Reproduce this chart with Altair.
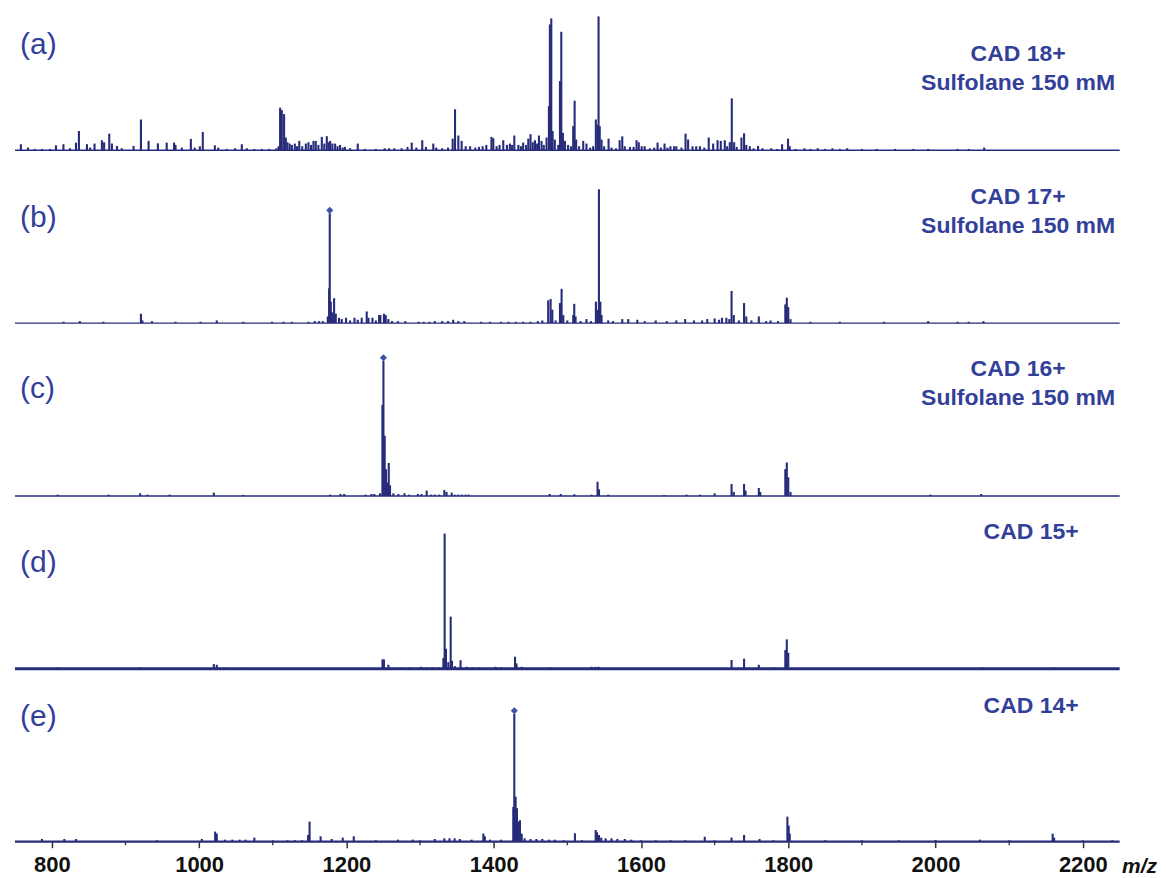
import altair as alt
import pandas as pd

# ---------------- data ----------------
x_range = [750, 2250]
major_ticks = [800, 1000, 1200, 1400, 1600, 1800, 2000, 2200]
minor_ticks = [900, 1100, 1300, 1500, 1700, 1900, 2100]

panel_keys = ["(a)", "(b)", "(c)", "(d)", "(e)"]
panel_texts = [
    ["CAD 18+", "Sulfolane 150 mM"],
    ["CAD 17+", "Sulfolane 150 mM"],
    ["CAD 16+", "Sulfolane 150 mM"],
    ["CAD 15+"],
    ["CAD 14+"],
]

peaks_a = [(758,4.5),(767.6,2),(777,1),(786.6,1),(797.5,1),(805.6,3.7),(815.8,4.5),(824.6,1.5),(832.8,5.7),(836.8,14.4),(847.7,4.5),(852,2),(858,5),(868,7.5),(871,6),(878,12.4),(881.6,5),(888.5,3.2),(895,1.5),(911,3.2),(921,23),(931.4,7),(944,5.2),(956,5.7),(966,5.7),(968,4),(976.6,2),(988.8,8.5),(994,2),(1001,3),(1005,13.7),(1021.4,3.7),(1026,2),(1037.6,1),(1048.9,1.5),(1058,4.5),(1064.8,1.5),(1075,1),(1085,1),(1095,1),(1105,1.5),(1108,3),(1110,31.8),(1112.3,30),(1115.4,27),(1117.7,9.5),(1120,6),(1123,5),(1126,4),(1130,5),(1133,3),(1136,7),(1140,3),(1144.9,5),(1148.5,6),(1152,4),(1155.3,7),(1158.4,7),(1162,4),(1166.6,10),(1170,5),(1173.4,10.5),(1176,6),(1178,7),(1181,5),(1184.7,5),(1188,3),(1191.4,4),(1195,2),(1198,2.5),(1205,1.5),(1215.4,5),(1225,1),(1240,1),(1252,1.5),(1258,1.5),(1265,1.5),(1275,1.5),(1283,2.5),(1288.7,5.7),(1295,2),(1303,7.5),(1308,2.5),(1318,5),(1322,2),(1330,1.5),(1338,2),(1344.3,8.7),(1347.5,30.6),(1352,11),(1356.5,7),(1362,3),(1368,3),(1375,2),(1380,2.5),(1385,3),(1390,4),(1397,10),(1399.5,9),(1404,3),(1408,4),(1413,7.5),(1418,4),(1422,5),(1425,4),(1428,11),(1433.5,4),(1437,3),(1440,5.7),(1444,4),(1447,8.7),(1450,12),(1453,6),(1456,7.5),(1459,5),(1461.5,11),(1465,7),(1468,4),(1471.8,9.5),(1475,33),(1476.3,94),(1478.2,98.5),(1480,14.4),(1483,8),(1487.7,4),(1490,51.7),(1491.8,88.5),(1494,13),(1496.8,7),(1501,4),(1505,3),(1508,18),(1509.9,37),(1512,8),(1516,3),(1521.6,7),(1526,5),(1531,2),(1535,3),(1538.7,23),(1541,19),(1542.4,100),(1544,18),(1546.5,8),(1550,3),(1556,8.7),(1560,2),(1566,1.5),(1571,7.5),(1574.6,10.4),(1578,3),(1585,2.5),(1590,2.5),(1594,7.5),(1597,6),(1601,3),(1605,3),(1612,1.5),(1618,2),(1622.5,5.7),(1627,2),(1632,5),(1636,2),(1640,3),(1645,3),(1648,3),(1655,2),(1660.5,12.4),(1664,8),(1670,3),(1675,3),(1680,3),(1686,2),(1692,9.5),(1698,5),(1704,7.5),(1708.4,7),(1713.8,7.5),(1717,3),(1720.6,6),(1723.3,38.8),(1726.5,6),(1730,2.5),(1736.4,9.5),(1740,12.7),(1743,4),(1747.8,3),(1753,1.5),(1759,3.2),(1765,1.5),(1777,1.5),(1785,1),(1791.6,4.5),(1799.7,8.7),(1802,3),(1810,1),(1822,1.5),(1830,1),(1840,1.5),(1850,1),(1860,1.5),(1870,1),(1880,1.5),(1900,1),(1920,1),(1945,1),(1970,1),(1990,1),(2030,1),(2045,1),(2066,2)]

peaks_b = [(816,1),(838,1.5),(870,1),(921,7),(923,2),(936,1.5),(968,1),(1002,1),(1024,2),(1060,1),(1099,1),(1114.6,1),(1125.8,1),(1148.5,1),(1157,1.5),(1163,1.5),(1168,1.5),(1174.7,5),(1176.5,26),(1177.4,82),(1178.8,16),(1180.6,8),(1183.3,18.6),(1185.6,7),(1190,4),(1193.7,3),(1199.5,4),(1205,2),(1211,4),(1215.4,2.5),(1220.8,4),(1227.6,8.7),(1230,4),(1235.4,4),(1240,2),(1244.4,6),(1246.2,6),(1251,7),(1253.4,6),(1257,3),(1262,1.5),(1270,1.5),(1280,1.5),(1298,1),(1305,1),(1313,1),(1320,1.5),(1330,1.5),(1338,1.5),(1345,2.5),(1352,1.5),(1360,1.5),(1383,1),(1395,1),(1410,1),(1420,1),(1430,1),(1440,1),(1450,1),(1460,1.5),(1466,2),(1474,17),(1477.3,18),(1479.6,10),(1484,2),(1490,15),(1492.2,25.6),(1494.5,6),(1500,2),(1508,6),(1509.4,14.4),(1511.2,5),(1518,1.5),(1526,3),(1532,1.5),(1538.8,16),(1541,10),(1542.9,100),(1544.8,16),(1546.5,6),(1555.5,2),(1562,1.5),(1574.6,3),(1582.7,3),(1595,2.5),(1605,1.5),(1620,2),(1635,1.5),(1648,2),(1660,3),(1672,2),(1683,2),(1690,3),(1700,3.5),(1706,2.5),(1710,4),(1716,4),(1720,3),(1723,24),(1726,6),(1733,2),(1740,15),(1743,5),(1750,2),(1760,5),(1770,1.5),(1776,2),(1786,1.5),(1796,14),(1798,19),(1800,12),(1803,3),(1830,1),(1870,1),(1930,1),(1990,1.5),(2030,1),(2045,1),(2065,1.5)]

peaks_c = [(808,1),(877,1),(920,2),(930,1),(960,1),(1020,2.5),(1060,0.8),(1177.9,1),(1192,1.5),(1197,1.5),(1226,1),(1234,1.5),(1238,1.5),(1245.7,2),(1248.9,68),(1250.3,101),(1252,45),(1253.8,20),(1255.7,10),(1257.5,24.6),(1259.2,8),(1263.8,2),(1270.6,1.5),(1278.8,2),(1285,1),(1297,1.5),(1302,1.5),(1309,4),(1315,1),(1320,1),(1326,1),(1333,4.4),(1336,3),(1343,2.5),(1347,1),(1352,1),(1357,1),(1362,1),(1366,1),(1476,1.5),(1491,1.5),(1509.5,1.3),(1533,1),(1541,10.6),(1543,5),(1555.6,1),(1631.5,0.7),(1661.8,1),(1680,1),(1700,2),(1723,9),(1726,3),(1740,9),(1742,4),(1760,6),(1762,3),(1796,20),(1798,25),(1800,14),(1803,3),(1993,1),(2062,1.5)]

peaks_d = [(808,1),(920,1),(1020,3.5),(1024,3),(1034,1),(1060,0.8),(1249,7),(1251,7),(1257,3),(1273,1),(1286,1),(1301,1.5),(1309,1),(1317,1),(1325,1),(1331.7,8),(1333.4,101),(1335.2,15),(1338.4,5),(1341.6,39),(1343.4,6),(1347.5,2),(1355,6.4),(1363.4,1.5),(1371,1),(1380,1),(1402.6,1.5),(1410,1),(1429,9),(1431,4),(1438,1.5),(1477,1),(1492,0.5),(1533,1.5),(1538,1.5),(1542.5,1.5),(1556,0.7),(1723,6.6),(1740,7.6),(1760,3),(1780,1),(1796,14),(1798,22),(1800,12),(2063,1),(2160,1)]

peaks_e = [(786.6,2),(817,2),(833,2),(942.7,1),(1003.7,2),(1021.8,7.5),(1024,6),(1035,1.5),(1045,1.5),(1055,1.5),(1063,1.5),(1075,3),(1100,1),(1120,1),(1130,1),(1140,1),(1148,5),(1150,15),(1165,4),(1180,2),(1195,3),(1210,4),(1240,1),(1270,1.5),(1290,1.5),(1300,1),(1320,2),(1333,2.5),(1340,2.5),(1347,2.5),(1354,2),(1370,1.5),(1386,6),(1388,4),(1395,1.5),(1410,1.5),(1426.6,26),(1428,95.5),(1429.8,33.6),(1431.6,25),(1433.5,15),(1435.7,16),(1438,6),(1442,2.5),(1450,2),(1458,2),(1466,2),(1475,1.5),(1483,1.5),(1495,1),(1510.3,6.2),(1520,1),(1538.5,8.7),(1540.3,7),(1543,5),(1546,3),(1552,2.5),(1560,2.5),(1568,2),(1578,2),(1587,1.5),(1600,1),(1620,1),(1640,1),(1660,1),(1686.6,3.7),(1700,1),(1723,3),(1740,5),(1761,2),(1780,1),(1798.8,18.7),(1800.6,12),(1802,6),(1850,1),(1900,1),(1950,1),(2000,1.2),(2060,1.5),(2100,1),(2159,6),(2161,3),(2200,1),(2240,1)]

all_peaks = [peaks_a, peaks_b, peaks_c, peaks_d, peaks_e]

# marked precursor peaks (diamonds): panel index, m/z, intensity
diamonds = [(1, 1177.4, 82), (2, 1250.3, 101), (4, 1428, 95.5)]

# ---------------- styling / layout ----------------
NAVY = "#272C7A"
TEXT_BLUE = "#33409A"
DIAMOND = "#3B52A6"
FONT = "Liberation Sans"
W, H = 1106, 142
YMAX = 106

label_y = [37, 37, 35, 36, 17]
text_y = [[46, 75], [16, 44.5], [15, 44], [5], [6]]
text_x = [1004, 1004, 1004, 1017, 1017]
base_width = [1.4, 1.4, 1.4, 3.0, 2.4]


def make_panel(i):
    bottom = i == 4
    if bottom:
        axis = alt.Axis(values=major_ticks, domain=False, grid=False, tickSize=6,
                        tickWidth=1.5, tickColor="#333333", labelFont=FONT,
                        labelFontSize=22, labelFontWeight="bold", labelColor="#111111",
                        labelPadding=7, title=None, format="d")
    else:
        axis = None
    x = alt.X("mz:Q", scale=alt.Scale(domain=[750, 2250.5], nice=False, zero=False),
              axis=axis)
    y = alt.Y("inten:Q", scale=alt.Scale(domain=[0, YMAX], nice=False), axis=None)

    df = pd.DataFrame(all_peaks[i], columns=["mz", "inten"])
    sticks = alt.Chart(df).mark_rule(color=NAVY, strokeWidth=2.1).encode(
        x=x, y=y, y2=alt.datum(0)
    )
    base_df = pd.DataFrame({"mz": [x_range[0]], "mz2": [x_range[1]], "inten": [0]})
    base = alt.Chart(base_df).mark_rule(color=NAVY, strokeWidth=base_width[i]).encode(
        x=x, x2="mz2:Q", y=y
    )
    layers = [base, sticks]

    dd = [(m, v) for (p, m, v) in diamonds if p == i]
    if dd:
        ddf = pd.DataFrame(dd, columns=["mz", "inten"])
        layers.append(
            alt.Chart(ddf).mark_point(shape="diamond", filled=True, size=50,
                                      color=DIAMOND, opacity=1, yOffset=-3)
            .encode(x=x, y=y)
        )

    lab = alt.Chart(pd.DataFrame({"t": [panel_keys[i]]})).mark_text(
        font=FONT, fontSize=30, color=TEXT_BLUE, align="left", baseline="middle"
    ).encode(x=alt.value(5), y=alt.value(label_y[i]), text="t:N")
    layers.append(lab)

    for line, ty in zip(panel_texts[i], text_y[i]):
        layers.append(
            alt.Chart(pd.DataFrame({"t": [line]})).mark_text(
                font=FONT, fontSize=23, fontWeight="bold", color=TEXT_BLUE,
                align="center", baseline="middle"
            ).encode(x=alt.value(text_x[i]), y=alt.value(ty), text="t:N")
        )

    if bottom:
        mt = alt.Chart(pd.DataFrame({"mz": minor_ticks})).mark_rule(
            color="#333333", strokeWidth=1.3
        ).encode(x=x, y=alt.value(H), y2=alt.value(H + 3.5))
        layers.append(mt)
        mz_lab = alt.Chart(pd.DataFrame({"t": ["m/z"]})).mark_text(
            font=FONT, fontSize=21, fontWeight="bold", fontStyle="italic",
            color="#111111", align="left", baseline="top"
        ).encode(x=alt.value(1108), y=alt.value(H + 14), text="t:N")
        layers.append(mz_lab)

    return alt.layer(*layers).properties(width=W, height=H)


chart = alt.vconcat(*[make_panel(i) for i in range(5)], spacing=31, bounds="flush") \
    .properties(padding={"left": 5, "top": 0, "right": 0, "bottom": 4},
                background="white") \
    .configure_view(stroke=None)

chart.save("out.html", embed_options={"renderer": "svg", "actions": False})
